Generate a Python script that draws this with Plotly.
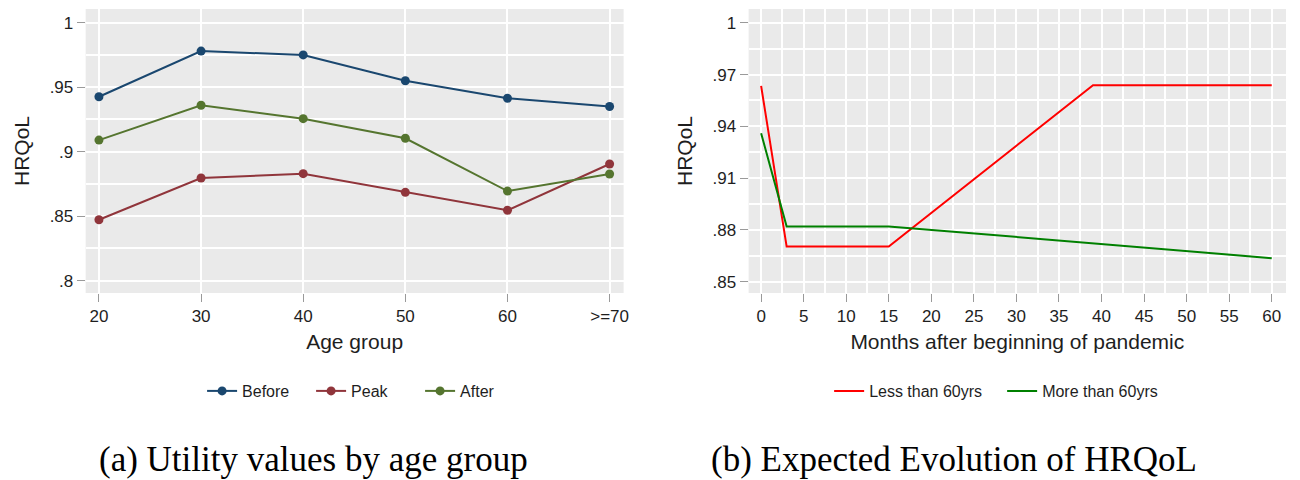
import plotly.graph_objects as go

# ---- Data: panel (a) ----
age_groups = ["20", "30", "40", "50", "60", ">=70"]
before = [0.9426, 0.978, 0.975, 0.955, 0.9414, 0.935]
peak = [0.8473, 0.8796, 0.883, 0.8685, 0.8546, 0.8905]
after = [0.909, 0.936, 0.9256, 0.9104, 0.8695, 0.8827]

# ---- Data: panel (b) ----
months_less = [0, 3, 15, 39, 60]
hrqol_less = [0.9634, 0.8703, 0.8703, 0.9638, 0.9638]
months_more = [0, 3, 15, 60]
hrqol_more = [0.936, 0.882, 0.882, 0.8636]

a_yticks = [0.8, 0.85, 0.9, 0.95, 1.0]
a_yticktext = [".8", ".85", ".9", ".95", "1"]
b_yticks = [0.85, 0.88, 0.91, 0.94, 0.97, 1.0]
b_yticktext = [".85", ".88", ".91", ".94", ".97", "1"]
b_xticks = list(range(0, 61, 5))

W, H = 1300, 480
FONT = "Liberation Sans, Arial, sans-serif"
SERIF = "Liberation Serif, Times New Roman, serif"
BG = "#EAEAEA"
TXT = "#1E1E1E"

fig = go.Figure()

for name, vals, col in [("Before", before, "#1A476F"),
                        ("Peak", peak, "#90353B"),
                        ("After", after, "#55752F")]:
    fig.add_trace(go.Scatter(x=age_groups, y=vals, name=name, mode="lines+markers",
                             line=dict(color=col, width=2), marker=dict(color=col, size=9),
                             xaxis="x", yaxis="y", legend="legend"))

fig.add_trace(go.Scatter(x=months_less, y=hrqol_less, name="Less than 60yrs", mode="lines",
                         line=dict(color="#FF0000", width=2), xaxis="x2", yaxis="y2", legend="legend2"))
fig.add_trace(go.Scatter(x=months_more, y=hrqol_more, name="More than 60yrs", mode="lines",
                         line=dict(color="#008000", width=2), xaxis="x2", yaxis="y2", legend="legend2"))

def px_x(p):
    return p / W

def px_y(p):
    return 1 - p / H

ydom = [px_y(293), px_y(9)]

common_axis = dict(showline=False, zeroline=False, gridcolor="white", gridwidth=1.5,
                   ticks="outside", ticklen=8, tickcolor="#9A9A9A", tickwidth=1,
                   tickfont=dict(size=17, color=TXT, family=FONT))

fig.update_layout(
    width=W, height=H,
    margin=dict(l=0, r=0, t=0, b=0),
    paper_bgcolor="white", plot_bgcolor=BG,
    font=dict(family=FONT, color=TXT),
    xaxis=dict(domain=[px_x(86), px_x(626)], type="category", range=[-0.13, 5.137],
               title=dict(text="Age group", font=dict(size=21), standoff=8),
               anchor="y", **common_axis),
    yaxis=dict(domain=ydom, range=[0.7905, 1.0106], tickvals=a_yticks, ticktext=a_yticktext,
               minor=dict(tick0=0.8, dtick=0.025, showgrid=True, gridcolor="white", ticklen=0),
               title=dict(text="HRQoL", font=dict(size=21), standoff=14),
               anchor="x", **common_axis),
    xaxis2=dict(domain=[px_x(751.5), px_x(1291)], range=[-1.47, 61.68], tickvals=b_xticks,
                minor=dict(tick0=0, dtick=2.5, showgrid=True, gridcolor="white", ticklen=0),
                title=dict(text="Months after beginning of pandemic", font=dict(size=21), standoff=8),
                anchor="y2", **common_axis),
    yaxis2=dict(domain=ydom, range=[0.8434, 1.0080], tickvals=b_yticks, ticktext=b_yticktext,
                minor=dict(tick0=0.85, dtick=0.015, showgrid=True, gridcolor="white", ticklen=0),
                title=dict(text="HRQoL", font=dict(size=21), standoff=14),
                anchor="x2", **common_axis),
    legend=dict(orientation="h", x=px_x(367), y=px_y(391), xanchor="center", yanchor="middle",
                font=dict(size=16, color=TXT), bgcolor="rgba(0,0,0,0)",
                entrywidth=64, entrywidthmode="pixels"),
    legend2=dict(orientation="h", x=px_x(1006), y=px_y(391), xanchor="center", yanchor="middle",
                 font=dict(size=16, color=TXT), bgcolor="rgba(0,0,0,0)",
                 entrywidth=128, entrywidthmode="pixels"),
    showlegend=True,
    annotations=[
        dict(text="(a) Utility values by age group", x=px_x(315), y=0, xref="paper", yref="paper",
             showarrow=False, xanchor="center", yanchor="bottom", borderpad=0,
             font=dict(family=SERIF, size=35, color="black")),
        dict(text="(b) Expected Evolution of HRQoL", x=px_x(958), y=0, xref="paper", yref="paper",
             showarrow=False, xanchor="center", yanchor="bottom", borderpad=0,
             font=dict(family=SERIF, size=35, color="black")),
    ],
)

fig.write_html("out.html", config={"displayModeBar": False},
               post_script="document.body.style.margin='0px';document.body.style.padding='0px';")
